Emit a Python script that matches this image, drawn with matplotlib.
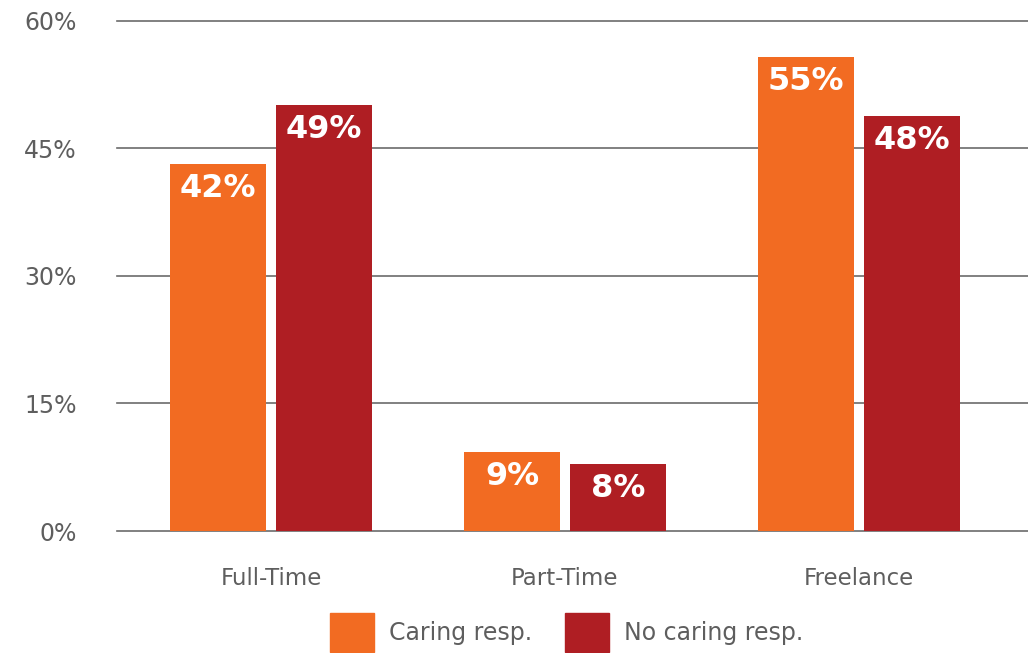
import matplotlib.pyplot as plt
from matplotlib.patches import Patch
import numpy as np

categories = ['Full-Time', 'Part-Time', 'Freelance']
caring = [43.1, 9.3, 55.7]
no_caring = [50.1, 7.9, 48.8]
caring_labels = ['42%', '9%', '55%']
no_caring_labels = ['49%', '8%', '48%']
yticks = [0, 15, 30, 45, 60]

orange = '#F26B22'
red = '#AF1E23'
grey = '#5e5e5e'

plt.rcParams['font.family'] = ['DejaVu Sans']

fig = plt.figure(figsize=(10.28, 6.53), dpi=100)
ax = fig.add_axes([0.1138, 0.1868, 0.8862, 0.7818])

x = np.arange(len(categories))
w = 0.327
off = 0.18
ax.bar(x - off, caring, width=w, color=orange, zorder=3)
ax.bar(x + off, no_caring, width=w, color=red, zorder=3)

for xi, v, lab in zip(x - off, caring, caring_labels):
    ax.text(xi, v - 2.9, lab, ha='center', va='center', color='white',
            fontsize=23, fontweight='bold', zorder=4)
for xi, v, lab in zip(x + off, no_caring, no_caring_labels):
    ax.text(xi, v - 2.9, lab, ha='center', va='center', color='white',
            fontsize=23, fontweight='bold', zorder=4)

ax.set_ylim(0, 60)
ax.set_xlim(-0.524, 2.575)
ax.set_yticks(yticks)
ax.set_yticklabels([f'{t}%' for t in yticks])
ax.set_xticks(x)
ax.set_xticklabels(categories)
ax.yaxis.grid(True, color='#6b6b6b', linewidth=1.2, zorder=0)
for gl in ax.get_ygridlines():
    gl.set_clip_on(False)
ax.set_axisbelow(True)
for s in ax.spines.values():
    s.set_visible(False)
ax.tick_params(axis='y', length=0, pad=29, labelsize=17, labelcolor=grey)
ax.tick_params(axis='x', length=0, pad=26, labelsize=16.5, labelcolor=grey)

handles = [Patch(color=orange), Patch(color=red)]
fig.legend(handles, ['Caring resp.', 'No caring resp.'], loc='center',
           bbox_to_anchor=(0.551, 0.0314), ncol=2, frameon=False,
           fontsize=17, labelcolor=grey, handlelength=1.86, handleheight=2.15,
           columnspacing=1.4, handletextpad=0.64, borderpad=0)

fig.savefig('out.png', dpi=100)
